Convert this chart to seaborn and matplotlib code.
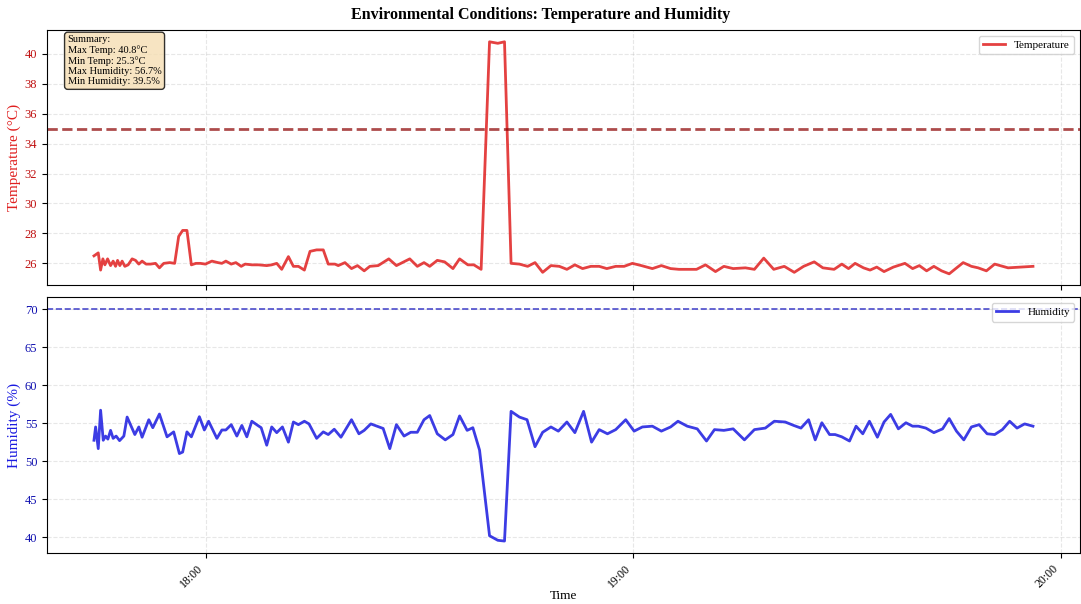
import pandas as pd
import numpy as np
import matplotlib
matplotlib.use('Agg')
import matplotlib.pyplot as plt
import matplotlib.dates as mdates
import seaborn as sns

# 数据: 时间为相对 18:00 的分钟数
temp_minutes = [-15.66, -15.06, -14.73, -14.41, -14.13, -13.75, -13.33, -12.97, -12.63, -12.35,
                -12.03, -11.71, -11.33, -10.87, -10.31, -9.83, -9.37, -8.91, -8.35, -7.73,
                -7.03, -6.48, -5.87, -5.03, -4.34, -3.78, -3.22, -2.62, -2.0, -1.36,
                -0.74, -0.04, 0.88, 1.72, 2.28, 2.84, 3.59, 4.24, 4.99, 5.55,
                6.48, 7.41, 8.57, 9.27, 9.97, 10.67, 11.61, 12.31, 13.01, 13.85,
                14.64, 15.57, 16.5, 17.2, 18.14, 18.6, 19.54, 20.46, 21.3, 22.24,
                23.03, 24.2, 25.69, 26.76, 28.63, 29.69, 30.63, 31.43, 32.49, 33.52,
                34.69, 35.62, 36.78, 37.62, 38.64, 39.82, 40.98, 41.92, 42.84, 44.01,
                45.17, 46.2, 47.27, 48.43, 49.61, 50.67, 51.79, 52.87, 54.03, 55.2,
                56.27, 57.52, 58.7, 59.86, 61.12, 62.66, 63.92, 65.22, 66.39, 67.55,
                68.85, 70.11, 71.51, 72.69, 73.99, 75.71, 76.97, 78.28, 79.68, 81.16,
                82.56, 83.87, 85.36, 86.57, 88.15, 89.23, 90.17, 91.09, 92.27, 93.19,
                94.13, 95.15, 96.46, 98.08, 99.16, 100.1, 101.12, 102.14, 103.22, 104.29,
                106.25, 107.41, 108.35, 109.51, 110.67, 112.55, 114.41, 116.04]
temperature = [26.5, 26.7, 25.55, 26.3, 25.9, 26.3, 25.85, 26.15, 25.8, 26.2,
               25.85, 26.15, 25.8, 25.9, 26.3, 26.2, 25.95, 26.15, 25.95, 25.95,
               26.0, 25.7, 26.0, 26.05, 26.0, 27.8, 28.2, 28.2, 25.9, 26.0,
               26.0, 25.95, 26.15, 26.05, 26.0, 26.15, 25.95, 26.05, 25.8, 25.95,
               25.9, 25.9, 25.85, 25.9, 26.0, 25.6, 26.45, 25.8, 25.8, 25.55,
               26.8, 26.9, 26.9, 25.95, 25.95, 25.85, 26.05, 25.65, 25.85, 25.5,
               25.8, 25.85, 26.3, 25.85, 26.3, 25.8, 26.05, 25.8, 26.2, 26.1,
               25.65, 26.3, 25.9, 25.9, 25.6, 40.8, 40.7, 40.8, 26.0, 25.95,
               25.8, 26.05, 25.4, 25.85, 25.8, 25.6, 25.9, 25.65, 25.8, 25.8,
               25.65, 25.8, 25.8, 26.0, 25.85, 25.65, 25.85, 25.65, 25.6, 25.6,
               25.6, 25.9, 25.45, 25.8, 25.65, 25.7, 25.6, 26.35, 25.6, 25.8,
               25.4, 25.8, 26.1, 25.7, 25.6, 25.95, 25.65, 26.0, 25.7, 25.55,
               25.75, 25.45, 25.75, 26.0, 25.65, 25.85, 25.5, 25.8, 25.5, 25.3,
               26.05, 25.8, 25.7, 25.5, 25.95, 25.7, 25.75, 25.8]

hum_minutes = [-15.66, -15.43, -15.06, -14.73, -14.36, -14.03, -13.71, -13.33, -12.97, -12.55,
               -12.07, -11.47, -11.01, -9.93, -9.37, -8.91, -7.97, -7.41, -6.48, -5.41,
               -4.48, -3.68, -3.22, -2.62, -2.0, -0.88, -0.18, 0.42, 1.58, 2.28,
               2.84, 3.59, 4.38, 5.08, 5.78, 6.48, 7.31, 7.79, 8.57, 9.27,
               9.97, 10.77, 11.61, 12.31, 13.01, 13.85, 14.5, 15.57, 16.5, 17.2,
               18.04, 18.98, 20.46, 21.5, 22.24, 23.17, 24.9, 25.83, 26.76, 27.83,
               28.77, 29.69, 30.63, 31.43, 32.49, 33.61, 34.69, 35.62, 36.68, 37.48,
               38.42, 39.82, 40.98, 41.92, 42.84, 44.01, 45.08, 46.2, 47.27, 48.43,
               49.47, 50.67, 51.79, 53.01, 54.13, 55.2, 56.36, 57.52, 58.92, 60.1,
               61.26, 62.66, 63.92, 65.22, 66.25, 67.55, 68.95, 70.25, 71.37, 72.69,
               73.99, 75.57, 76.97, 78.5, 79.76, 81.29, 82.48, 83.5, 84.57, 85.5,
               86.43, 87.51, 88.29, 89.23, 90.31, 91.23, 92.17, 93.1, 94.22, 95.15,
               96.08, 97.16, 98.22, 99.16, 99.96, 101.02, 102.14, 103.36, 104.29, 105.31,
               106.34, 107.41, 108.49, 109.61, 110.67, 111.75, 112.77, 113.8, 114.87, 116.04]
humidity = [52.75, 54.5, 51.65, 56.7, 52.75, 53.3, 52.9, 54.05, 53.0, 53.3,
            52.7, 53.3, 55.8, 53.5, 54.5, 53.15, 55.45, 54.4, 56.2, 53.2,
            53.85, 51.0, 51.2, 53.85, 53.2, 55.85, 54.1, 55.25, 53.0, 54.1,
            54.1, 54.8, 53.3, 54.7, 53.2, 55.25, 54.7, 54.4, 52.1, 54.5,
            53.75, 54.5, 52.5, 55.15, 54.8, 55.25, 54.9, 53.0, 53.85, 53.5,
            54.2, 53.15, 55.45, 53.6, 54.05, 54.9, 54.3, 51.65, 54.8, 53.3,
            53.8, 53.8, 55.45, 56.0, 53.6, 52.8, 53.5, 55.95, 54.05, 54.4,
            51.45, 40.2, 39.6, 39.5, 56.55, 55.8, 55.45, 51.9, 53.8, 54.5,
            53.95, 55.15, 53.75, 56.55, 52.5, 54.15, 53.6, 54.15, 55.45, 53.95,
            54.5, 54.6, 53.95, 54.5, 55.25, 54.6, 54.25, 52.65, 54.15, 54.05,
            54.25, 52.8, 54.15, 54.35, 55.25, 55.15, 54.7, 54.35, 55.45, 52.8,
            55.05, 53.5, 53.5, 53.2, 52.65, 54.6, 53.6, 55.25, 53.15, 55.15,
            56.15, 54.25, 55.05, 54.6, 54.6, 54.35, 53.75, 54.25, 55.6, 53.95,
            52.8, 54.5, 54.8, 53.6, 53.5, 54.15, 55.25, 54.35, 54.9, 54.6]

temp_threshold = 35
hum_threshold = 70

base = pd.Timestamp('2024-01-01 18:00')
df_t = pd.DataFrame({'Time': base + pd.to_timedelta(temp_minutes, unit='min'), 'Temperature': temperature})
df_h = pd.DataFrame({'Time': base + pd.to_timedelta(hum_minutes, unit='min'), 'Humidity': humidity})

plt.rcParams['font.family'] = ['Liberation Serif', 'DejaVu Serif']

fig, (ax1, ax2) = plt.subplots(2, 1, figsize=(10.81, 6.04), dpi=100, sharex=True)
fig.subplots_adjust(left=0.0435, right=0.999, top=0.950, bottom=0.085, hspace=0.047)

# 温度
sns.lineplot(data=df_t, x='Time', y='Temperature', ax=ax1, color='#e02020', alpha=0.85,
             linewidth=2, label='Temperature')
ax1.axhline(temp_threshold, color='darkred', linestyle='--', linewidth=2, alpha=0.7)
ax1.set_ylabel('Temperature (°C)', color='#e02020', fontsize=11, labelpad=3)
ax1.tick_params(axis='y', labelcolor='#c01010', labelsize=9)
ax1.grid(True, linestyle='--', alpha=0.3)
ax1.legend(loc='upper right', fontsize=8)
ax1.set_xlabel('')

summary = (f"Summary:\nMax Temp: {max(temperature):.1f}°C\nMin Temp: {min(temperature):.1f}°C\n"
           f"Max Humidity: {max(humidity):.1f}%\nMin Humidity: {min(humidity):.1f}%")
ax1.text(0.02, 0.98, summary, transform=ax1.transAxes, va='top', fontsize=7.5,
         linespacing=1.15,
         bbox=dict(boxstyle='round', facecolor='wheat', alpha=0.8))

# 湿度
sns.lineplot(data=df_h, x='Time', y='Humidity', ax=ax2, color='#1a1ae0', alpha=0.85,
             linewidth=2, label='Humidity')
ax2.axhline(hum_threshold, color='#2020c0', linestyle='--', linewidth=1.2, alpha=0.8)
ax2.set_ylabel('Humidity (%)', color='#1a1ae0', fontsize=11, labelpad=3)
ax2.tick_params(axis='y', labelcolor='#1010b0', labelsize=9)
ax2.grid(True, linestyle='--', alpha=0.3)
ax2.legend(loc='upper right', fontsize=8)
ax2.set_xlabel('Time', fontsize=9.5, labelpad=0)

ax2.xaxis.set_major_locator(mdates.HourLocator())
ax2.xaxis.set_major_formatter(mdates.DateFormatter('%H:%M'))
plt.setp(ax2.get_xticklabels(), rotation=45, ha='right', fontsize=8.5)

fig.suptitle('Environmental Conditions: Temperature and Humidity', fontsize=11.5,
             fontweight='bold', y=0.988)

plt.savefig('out.png', dpi=100)
